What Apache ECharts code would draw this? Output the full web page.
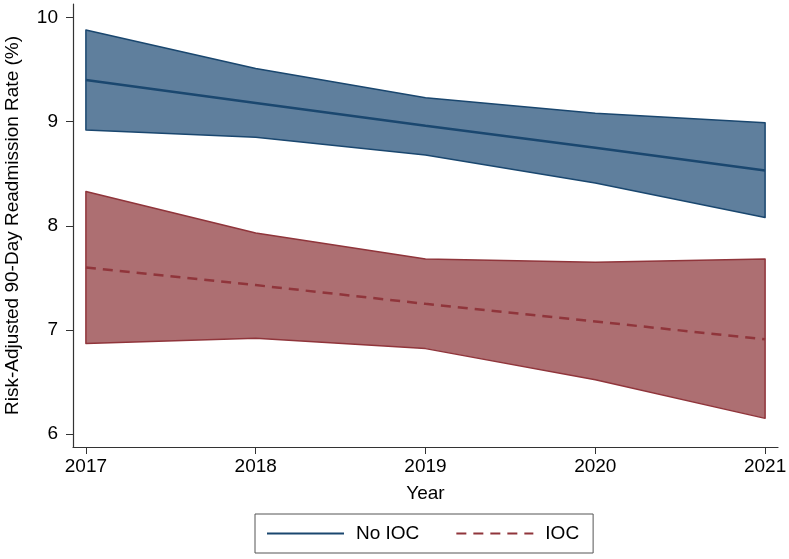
<!DOCTYPE html>
<html>
<head>
<meta charset="utf-8">
<script src="https://cdn.jsdelivr.net/npm/echarts@6/dist/echarts.min.js"></script>
<style>html,body{margin:0;padding:0;background:#fff}#c{width:789px;height:559px}</style>
</head>
<body>
<div id="c"></div>
<script>
const years = [2017, 2018, 2019, 2020, 2021];
const noIocMean  = [9.40, 9.18, 8.96, 8.75, 8.53];
const noIocLower = [8.92, 8.85, 8.68, 8.41, 8.08];
const noIocUpper = [9.88, 9.51, 9.23, 9.08, 8.99];
const iocMean  = [7.60, 7.43, 7.25, 7.08, 6.91];
const iocLower = [6.87, 6.92, 6.82, 6.52, 6.15];
const iocUpper = [8.33, 7.93, 7.68, 7.65, 7.68];
const yTicks = [6, 7, 8, 9, 10];

const FONT = 'Liberation Sans';
const pairs = arr => years.map((y, i) => [y, arr[i]]);
const triples = (lo, up) => years.map((y, i) => [y, lo[i], up[i]]);

const blueLine = '#1a476f', blueFill = '#5f7f9d';
const redLine = '#90353b', redFill = '#ad6f72';

function band(name, lo, up, lineColor, fillColor) {
  return {
    name: name, type: 'custom', silent: true, z: 1,
    data: triples(lo, up),
    encode: { x: 0, y: [1, 2] },
    renderItem: function (params, api) {
      if (params.dataIndex !== 0) return null;
      const top = years.map((y, i) => api.coord([y, up[i]]));
      const bot = years.map((y, i) => api.coord([y, lo[i]])).reverse();
      return {
        type: 'polygon',
        shape: { points: top.concat(bot) },
        style: { fill: fillColor, stroke: lineColor, lineWidth: 1.5, lineJoin: 'round' }
      };
    }
  };
}

const chart = echarts.init(document.getElementById('c'));
chart.setOption({
  animation: false,
  grid: { left: 73, right: 11, top: 4, bottom: 112, containLabel: false, outerBoundsMode: 'none' },
  xAxis: {
    type: 'value', min: 2016.924, max: 2021.076,
    name: 'Year', nameLocation: 'middle', nameGap: 37,
    nameTextStyle: { fontFamily: FONT, fontSize: 19, color: '#000' },
    axisLine: { lineStyle: { color: '#333', width: 1.2 } },
    axisTick: { show: true, length: 7, inside: false, customValues: years, lineStyle: { color: '#333' } },
    axisLabel: { customValues: years, fontFamily: FONT, fontSize: 19, color: '#000', margin: 10,
      formatter: v => String(v) },
    splitLine: { show: false },
  },
  yAxis: {
    type: 'value', min: 5.875, max: 10.13,
    name: 'Risk-Adjusted 90-Day Readmission Rate (%)', nameLocation: 'middle', nameGap: 51,
    nameTextStyle: { fontFamily: FONT, fontSize: 19, color: '#000' },
    axisLine: { show: true, lineStyle: { color: '#333', width: 1.2 } },
    axisTick: { show: true, length: 7, customValues: yTicks, lineStyle: { color: '#333' } },
    axisLabel: { customValues: yTicks, fontFamily: FONT, fontSize: 19, color: '#000', margin: 15,
      formatter: v => String(v) },
    splitLine: { show: false },
  },
  legend: {
    data: ['No IOC', 'IOC'],
    left: 255, top: 514,
    padding: [10, 14, 10, 11],
    borderColor: '#555', borderWidth: 1,
    itemWidth: 77, itemHeight: 14, itemGap: 36,
    itemStyle: { opacity: 0 },
    textStyle: { fontFamily: FONT, fontSize: 19, color: '#000', padding: [0, 0, 0, 7] },
  },
  series: [
    band('noioc', noIocLower, noIocUpper, blueLine, blueFill),
    band('ioc', iocLower, iocUpper, redLine, redFill),
    { name: 'No IOC', type: 'line', data: pairs(noIocMean), symbol: 'none',
      lineStyle: { color: blueLine, width: 2.5 }, itemStyle: { color: blueLine }, z: 5 },
    { name: 'IOC', type: 'line', data: pairs(iocMean), symbol: 'none',
      lineStyle: { color: redLine, width: 2.5, type: [10, 7] }, itemStyle: { color: redLine }, z: 5 },
  ],
});
</script>
</body>
</html>
